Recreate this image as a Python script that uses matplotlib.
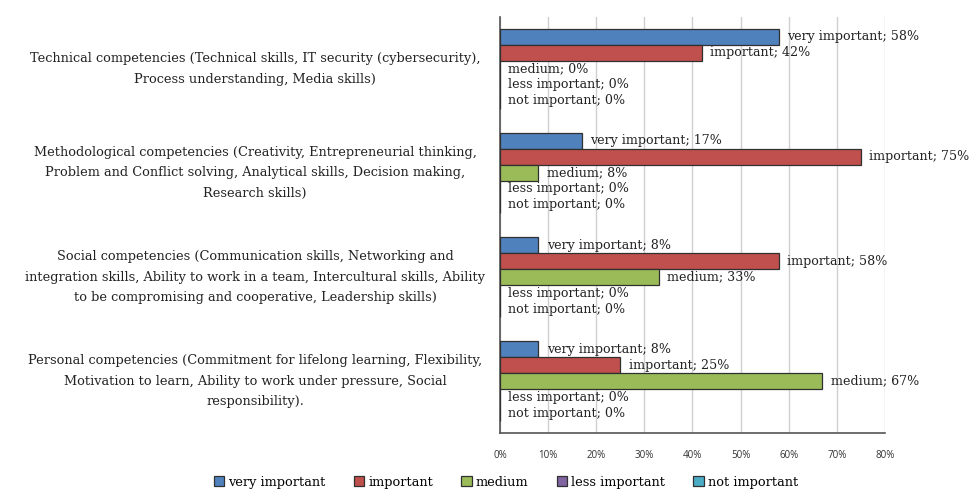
import matplotlib
matplotlib.use("Agg")
import matplotlib.pyplot as plt
import numpy as np

categories = [
    "Technical competencies (Technical skills, IT security (cybersecurity),\nProcess understanding, Media skills)",
    "Methodological competencies (Creativity, Entrepreneurial thinking,\nProblem and Conflict solving, Analytical skills, Decision making,\nResearch skills)",
    "Social competencies (Communication skills, Networking and\nintegration skills, Ability to work in a team, Intercultural skills, Ability\nto be compromising and cooperative, Leadership skills)",
    "Personal competencies (Commitment for lifelong learning, Flexibility,\nMotivation to learn, Ability to work under pressure, Social\nresponsibility).",
]
series_names = ["very important", "important", "medium", "less important", "not important"]
very_important = [58, 17, 8, 8]
important = [42, 75, 58, 25]
medium = [0, 8, 33, 67]
less_important = [0, 0, 0, 0]
not_important = [0, 0, 0, 0]
series_values = [very_important, important, medium, less_important, not_important]
colors = ["#4F81BD", "#C0504D", "#9BBB59", "#8064A2", "#4BACC6"]
xticks = [0, 10, 20, 30, 40, 50, 60, 70, 80]

serif = ["DejaVu Serif"]

fig = plt.figure(figsize=(9.71, 4.91), dpi=100)
ax = fig.add_axes([0.5149, 0.1181, 0.9114 - 0.5149, 0.9654 - 0.1181])

h = 16 / 104
y = np.arange(len(categories))
for j, (name, vals, c) in enumerate(zip(series_names, series_values, colors)):
    pos = y + (j - 2) * h
    ax.barh(pos, vals, height=h, color=c, edgecolor="#303030", linewidth=0.9,
            label=name, zorder=3)
    for p, v in zip(pos, vals):
        ax.annotate(f"{name}; {v}%", xy=(v, p), xytext=(6, 0),
                    textcoords="offset points", va="center", ha="left",
                    fontsize=9.1, family=serif, color="#222222", zorder=4)

ax.set_xlim(0, 80)
ax.set_ylim(len(categories) - 0.5, -0.5)
ax.set_xticks(xticks)
ax.set_xticklabels([f"{t}%" for t in xticks], family=["Open Sans", "DejaVu Sans"],
                   fontsize=7, color="#333333")
ax.tick_params(axis="x", length=0, pad=12)
ax.set_yticks([])
for i, cat in enumerate(categories):
    ax.text(-0.636, i, cat, transform=ax.get_yaxis_transform(), ha="center",
            va="center", fontsize=9.3, family=serif, color="#222222",
            linespacing=1.75)

ax.grid(axis="x", color="#cfcfcf", linewidth=1, zorder=0)
for s in ["top", "right"]:
    ax.spines[s].set_visible(False)
for s in ["left", "bottom"]:
    ax.spines[s].set_color("#555555")
    ax.spines[s].set_linewidth(1.2)

handles, labels = ax.get_legend_handles_labels()
fig.legend(handles, labels, loc="center", bbox_to_anchor=(0.521, 0.018),
           ncol=5, frameon=False, prop={"family": serif, "size": 9.3},
           handlelength=0.8, handleheight=0.8, handletextpad=0.3,
           columnspacing=2.2)

fig.savefig("out.png", dpi=100)
